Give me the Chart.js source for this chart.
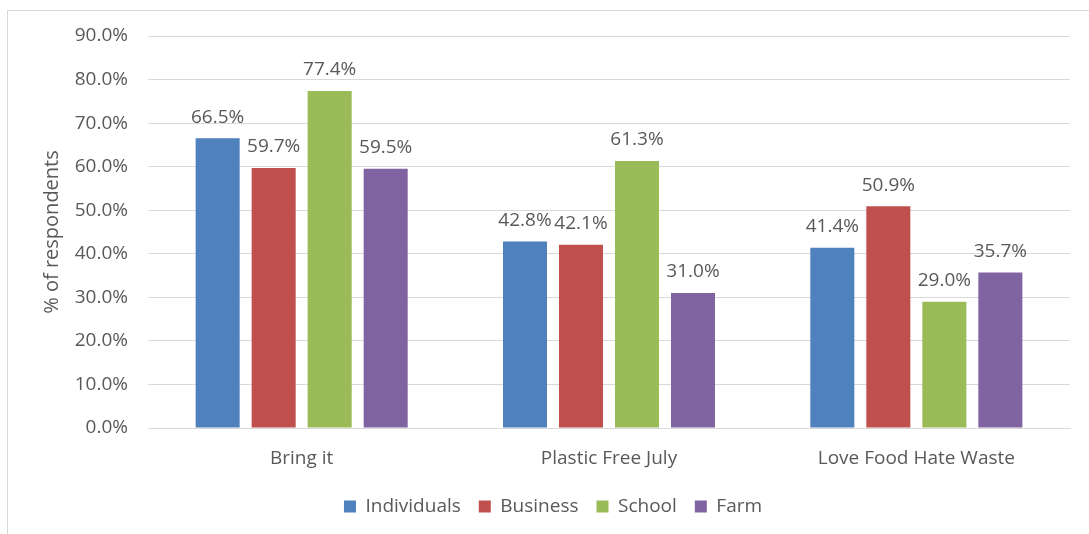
<!DOCTYPE html>
<html>
<head>
<meta charset="utf-8">
<script src="https://cdn.jsdelivr.net/npm/chart.js"></script>
<style>
  html, body { margin: 0; padding: 0; background: #fff; }
  #frame {
    position: absolute; left: 7px; top: 10px; width: 1082px; height: 524px;
    border-left: 1px solid #d9d9d9; border-top: 1px solid #d9d9d9;
  }
  #wrap { position: absolute; left: 0; top: 0; width: 1089px; height: 534px; }
</style>
</head>
<body>
<div id="frame"></div>
<div id="wrap"><canvas id="myChart"></canvas></div>
<script>
const categorias = ['Bring it', 'Plastic Free July', 'Love Food Hate Waste'];
const individuals = [66.5, 42.8, 41.4];
const business = [59.7, 42.1, 50.9];
const school = [77.4, 61.3, 29.0];
const farm = [59.5, 31.0, 35.7];
const yTicks = [0, 10, 20, 30, 40, 50, 60, 70, 80, 90];

const cinza = '#595959';
const fonte = "'Open Sans', sans-serif";

// rotulos em cima das barras
const rotulos = {
    id: 'rotulos',
    afterDatasetsDraw(chart) {
        const ctx = chart.ctx;
        ctx.save();
        ctx.fillStyle = cinza;
        ctx.font = "19px " + fonte;
        ctx.textAlign = 'center';
        ctx.textBaseline = 'middle';
        chart.data.datasets.forEach((ds, i) => {
            chart.getDatasetMeta(i).data.forEach((bar, j) => {
                ctx.fillText(ds.data[j].toFixed(1) + '%', bar.x, bar.y - 21);
            });
        });
        ctx.restore();
    }
};

var ctx = document.getElementById('myChart').getContext('2d');
var grafico = new Chart(ctx, {
    type: 'bar',
    data: {
        labels: categorias,
        datasets: [
            { label: 'Individuals', data: individuals, backgroundColor: '#4F81BD' },
            { label: 'Business', data: business, backgroundColor: '#C0504D' },
            { label: 'School', data: school, backgroundColor: '#9BBB59' },
            { label: 'Farm', data: farm, backgroundColor: '#8064A2' }
        ]
    },
    options: {
        responsive: true,
        maintainAspectRatio: false,
        animation: false,
        categoryPercentage: 0.729,
        barPercentage: 0.786,
        layout: { padding: { top: 36, right: 19, left: 36, bottom: 8 } },
        plugins: {
            tooltip: { enabled: false },
            legend: {
                position: 'bottom',
                labels: {
                    color: cinza,
                    font: { family: fonte, size: 19 },
                    boxWidth: 12,
                    boxHeight: 12,
                    padding: 18
                }
            }
        },
        scales: {
            x: {
                grid: { display: false },
                border: { color: '#d9d9d9' },
                afterFit: s => { s.height = 51; },
                ticks: { color: cinza, font: { family: fonte, size: 19 }, padding: 11 }
            },
            y: {
                min: 0,
                max: 90,
                afterBuildTicks: s => { s.ticks = yTicks.map(v => ({ value: v })); },
                afterFit: s => { s.width = 112; },
                grid: { color: '#d9d9d9', drawTicks: false },
                border: { display: false },
                ticks: {
                    color: cinza,
                    font: { family: fonte, size: 19 },
                    padding: 20,
                    callback: v => v.toFixed(1) + '%'
                },
                title: {
                    display: true,
                    text: '% of respondents',
                    color: cinza,
                    font: { family: fonte, size: 20 }
                }
            }
        }
    },
    plugins: [rotulos]
});
</script>
</body>
</html>
